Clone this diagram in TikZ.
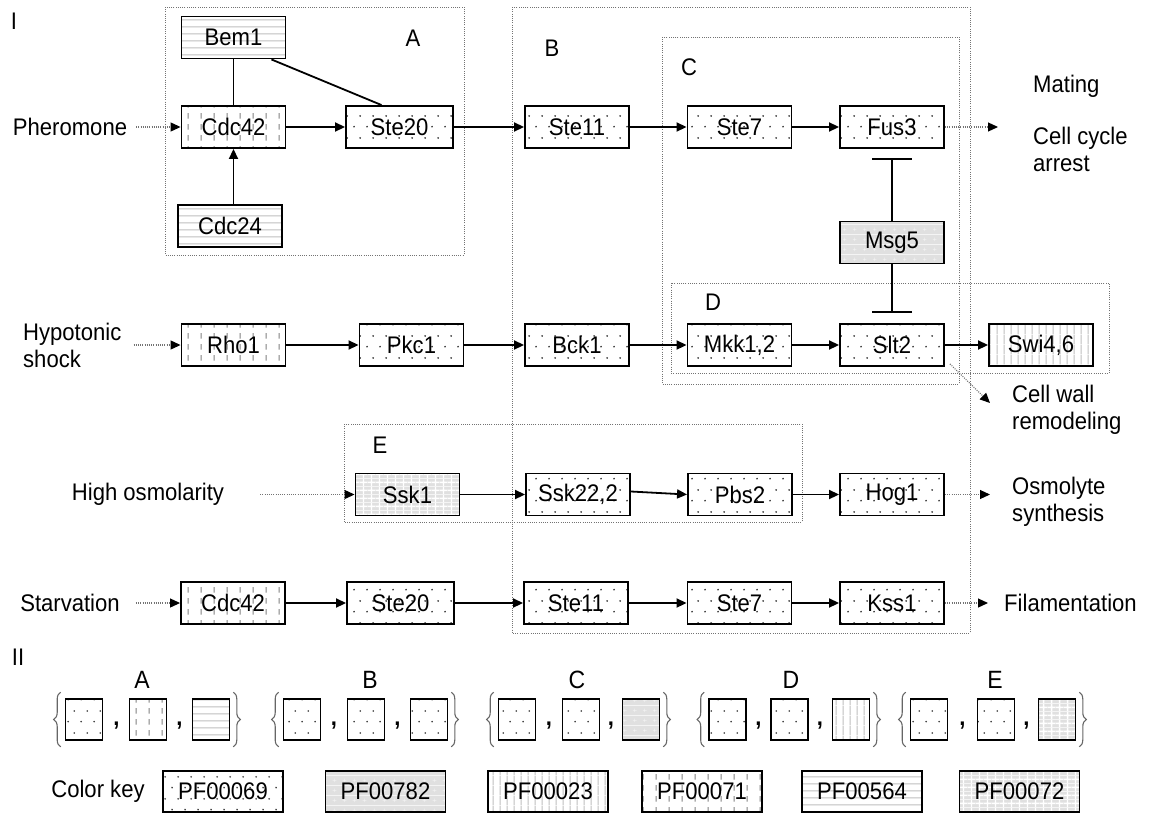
\documentclass[tikz,border=0pt]{standalone}
\usepackage{fontspec}
\setmainfont{Liberation Sans}[FakeStretch=0.92]
\usetikzlibrary{arrows.meta,patterns.meta,decorations.pathreplacing}

% Domain fill patterns (one per Pfam family)
\pgfdeclarepattern{
  name=pfdots, type=colored,
  bottom left={\pgfpointorigin}, top right={\pgfpoint{13pt}{22pt}},
  tile size={\pgfpoint{13pt}{22pt}},
  code={\pgfsetfillcolor{black!80}
    \pgfpathcircle{\pgfpoint{3.25pt}{5.5pt}}{0.95pt}
    \pgfpathcircle{\pgfpoint{9.75pt}{16.5pt}}{0.95pt}
    \pgfusepath{fill}}}
\pgfdeclarepattern{
  name=pfgray, type=colored,
  bottom left={\pgfpointorigin}, top right={\pgfpoint{10pt}{10pt}},
  tile size={\pgfpoint{10pt}{10pt}},
  code={\pgfsetfillcolor{black!12}
    \pgfpathrectangle{\pgfpointorigin}{\pgfpoint{10pt}{10pt}}\pgfusepath{fill}
    \pgfsetstrokecolor{black!5}\pgfsetlinewidth{0.7pt}
    \pgfpathmoveto{\pgfpoint{5pt}{3pt}}\pgfpathlineto{\pgfpoint{5pt}{7pt}}
    \pgfpathmoveto{\pgfpoint{3pt}{5pt}}\pgfpathlineto{\pgfpoint{7pt}{5pt}}
    \pgfusepath{stroke}}}
\pgfdeclarepattern{
  name=pfvline, type=colored,
  bottom left={\pgfpointorigin}, top right={\pgfpoint{7pt}{10pt}},
  tile size={\pgfpoint{7pt}{10pt}},
  code={\pgfsetstrokecolor{black!25}\pgfsetlinewidth{1.3pt}
    \pgfpathmoveto{\pgfpoint{3.5pt}{0pt}}\pgfpathlineto{\pgfpoint{3.5pt}{10pt}}
    \pgfusepath{stroke}}}
\pgfdeclarepattern{
  name=pfhline, type=colored,
  bottom left={\pgfpointorigin}, top right={\pgfpoint{10pt}{7pt}},
  tile size={\pgfpoint{10pt}{7pt}},
  code={\pgfsetstrokecolor{black!25}\pgfsetlinewidth{1.3pt}
    \pgfpathmoveto{\pgfpoint{0pt}{3.5pt}}\pgfpathlineto{\pgfpoint{10pt}{3.5pt}}
    \pgfusepath{stroke}}}
\pgfdeclarepattern{
  name=pfvdash, type=colored,
  bottom left={\pgfpointorigin}, top right={\pgfpoint{13pt}{11pt}},
  tile size={\pgfpoint{13pt}{11pt}},
  code={\pgfsetstrokecolor{black!50}\pgfsetlinewidth{1.1pt}
    \pgfpathmoveto{\pgfpoint{6.5pt}{2.5pt}}\pgfpathlineto{\pgfpoint{6.5pt}{8.5pt}}
    \pgfusepath{stroke}}}
\pgfdeclarepattern{
  name=pfgrid, type=colored,
  bottom left={\pgfpointorigin}, top right={\pgfpoint{8pt}{8pt}},
  tile size={\pgfpoint{8pt}{8pt}},
  code={\pgfsetfillcolor{black!12}
    \pgfpathrectangle{\pgfpointorigin}{\pgfpoint{8pt}{8pt}}\pgfusepath{fill}
    \pgfsetstrokecolor{white}\pgfsetlinewidth{1.4pt}
    \pgfpathmoveto{\pgfpoint{4pt}{0pt}}\pgfpathlineto{\pgfpoint{4pt}{8pt}}
    \pgfpathmoveto{\pgfpoint{0pt}{4pt}}\pgfpathlineto{\pgfpoint{8pt}{4pt}}
    \pgfusepath{stroke}}}

\newcommand\mainfs{\fontsize{24}{27}\selectfont}
\newcommand\setfs{\fontsize{25}{28}\selectfont}

\tikzset{
  prot/.style={draw, line width=1.9pt, minimum width=104pt, minimum height=42pt,
    inner sep=0pt, font=\mainfs, preaction={fill=white}},
  keybox/.style={draw, line width=1.6pt, minimum width=120pt, minimum height=41pt,
    inner sep=0pt, font=\mainfs, preaction={fill=white}},
  sq/.style={draw, line width=1.6pt, minimum width=37pt, minimum height=41pt,
    inner sep=0pt, preaction={fill=white}},
  grp/.style={draw=black!55, line width=0.9pt, dash pattern=on 1pt off 1.2pt},
  lbl/.style={font=\mainfs, inner sep=0pt},
  act/.style={line width=1.8pt, -{Triangle[length=10pt,width=9pt]}},
  sig/.style={draw=black!55, line width=1.1pt, dash pattern=on 1pt off 1.2pt,
    -{Triangle[length=10pt,width=9pt,color=black,fill=black]}},
  inh/.style={line width=1.8pt, -{Bar[width=40pt]}},
  setbrace/.style={draw=black!60, line width=1.1pt, decorate,
    decoration={brace, amplitude=7pt}},
}

\begin{document}
\begin{tikzpicture}[x=1pt,y=-1pt]
\fill[white] (0,0) rectangle (1150,814);
\useasboundingbox (0,0) rectangle (1150,814);

% ---- module frames ----
\draw[grp] (165,7) rectangle (464,255);
\draw[grp] (512,7) rectangle (970,633);
\draw[grp] (662,37) rectangle (959,384);
\draw[grp] (671,283) rectangle (1109,373);
\draw[grp] (344,424) rectangle (802,522);

\node[lbl] (labA) at (413,38) {A};
\node[lbl] (labB) at (552,48) {B};
\node[lbl] (labC) at (689,67) {C};
\node[lbl] (labD) at (713,302) {D};
\node[lbl] (labE) at (380,445) {E};

\node[lbl] (partI) at (14,21) {I};
\node[lbl] (partII) at (18,657) {II};

% ---- pheromone pathway ----
\node[prot, pattern=pfhline] (bem1) at (233.5,37.5) {Bem1};
\node[prot, pattern=pfvdash] (cdc42a) at (233.5,127) {Cdc42};
\node[prot, pattern=pfdots, minimum width=107pt] (ste20a) at (399.5,127) {Ste20};
\node[prot, pattern=pfhline] (cdc24) at (230,226) {Cdc24};
\node[prot, pattern=pfdots] (ste11a) at (577,127) {Ste11};
\node[prot, pattern=pfdots] (ste7a) at (739.5,127) {Ste7};
\node[prot, pattern=pfdots] (fus3) at (892,127) {Fus3};
\node[prot, pattern=pfgray] (msg5) at (892,242.5) {Msg5};

% ---- cell wall integrity pathway ----
\node[prot, pattern=pfvdash] (rho1) at (233.5,345) {Rho1};
\node[prot, pattern=pfdots] (pkc1) at (411.5,345) {Pkc1};
\node[prot, pattern=pfdots] (bck1) at (577,345) {Bck1};
\node[prot, pattern=pfdots] (mkk) at (739.5,345) {Mkk1,2};
\node[prot, pattern=pfdots] (slt2) at (892,345) {Slt2};
\node[prot, pattern=pfvline] (swi) at (1041,345) {Swi4,6};

% ---- osmotic stress pathway ----
\node[prot, pattern=pfgrid] (ssk1) at (407.5,494.5) {Ssk1};
\node[prot, pattern=pfdots] (ssk22) at (578,494.5) {Ssk22,2};
\node[prot, pattern=pfdots] (pbs2) at (740,494.5) {Pbs2};
\node[prot, pattern=pfdots] (hog1) at (892,494.5) {Hog1};

% ---- filamentation pathway ----
\node[prot, pattern=pfvdash] (cdc42b) at (233,603) {Cdc42};
\node[prot, pattern=pfdots, minimum width=107pt] (ste20b) at (400.5,603) {Ste20};
\node[prot, pattern=pfdots] (ste11b) at (576,603) {Ste11};
\node[prot, pattern=pfdots] (ste7b) at (739.5,603) {Ste7};
\node[prot, pattern=pfdots] (kss1) at (892,603) {Kss1};

% ---- stimuli ----
\node[lbl] (pher) at (70,127) {Pheromone};
\node[lbl, anchor=west, align=left] (hypo) at (23,345) {Hypotonic\\shock};
\node[lbl] (osm) at (148,494.5) {High osmolarity};
\node[lbl] (starv) at (70,603) {Starvation};

% ---- responses ----
\node[lbl, anchor=west] (mating) at (1033,86) {Mating};
\node[lbl, anchor=west, align=left] (arrest) at (1033,149.5) {Cell cycle\\arrest};
\node[lbl, anchor=west, align=left] (cellwall) at (1012,410) {Cell wall\\remodeling};
\node[lbl, anchor=west, align=left] (osmolyte) at (1012,502) {Osmolyte\\synthesis};
\node[lbl, anchor=west] (filam) at (1004,603) {Filamentation};

\coordinate (matingend) at (998,127);
\coordinate (cwend) at (990,403);
\coordinate (osmend) at (990,494.5);
\coordinate (filend) at (988,603);

% ---- connectors ----
\draw[line width=1.8pt] (bem1) -- (cdc42a);
\draw[line width=1.8pt] ([xshift=-15pt]bem1.south east) -- ([xshift=-18pt]ste20a.north);
\draw[act] (cdc24.north -| cdc42a.south) -- (cdc42a.south);
\draw[act] (cdc42a) -- (ste20a);
\draw[act] (ste20a) -- (ste11a);
\draw[act] (ste11a) -- (ste7a);
\draw[act] (ste7a) -- (fus3);
\draw[inh] (msg5.north) -- ([yshift=-9pt]fus3.south);
\draw[inh] (msg5.south) -- ([yshift=10pt]slt2.north);

\draw[act] (rho1) -- (pkc1);
\draw[act] (pkc1) -- (bck1);
\draw[act] (bck1) -- (mkk);
\draw[act] (mkk) -- (slt2);
\draw[act] (slt2) -- (swi);

\draw[act] (ssk1) -- (ssk22);
\draw[act] ([yshift=3pt]ssk22.east) -- (pbs2.west);
\draw[act] (pbs2) -- (hog1);

\draw[act] (cdc42b) -- (ste20b);
\draw[act] (ste20b) -- (ste11b);
\draw[act] (ste11b) -- (ste7b);
\draw[act] (ste7b) -- (kss1);

\draw[sig] ([xshift=9pt]pher.east) -- (cdc42a.west);
\draw[sig] ([xshift=12pt]hypo.east) -- (rho1.west);
\draw[sig] ([xshift=36pt]osm.east) -- (ssk1.west);
\draw[sig] ([xshift=16pt]starv.east) -- (cdc42b.west);

\draw[sig] (fus3.east) -- (matingend);
\draw[sig] ([xshift=5pt,yshift=3pt]slt2.south east) -- (cwend);
\draw[sig] (hog1.east) -- (osmend);
\draw[sig] (kss1.east) -- (filend);

% ---- part II: domain composition of each module ----
\node[font=\setfs, inner sep=0pt] (setA) at (142,680) {A};
\node[font=\setfs, inner sep=0pt] (setB) at (370,680) {B};
\node[font=\setfs, inner sep=0pt] (setC) at (577,680) {C};
\node[font=\setfs, inner sep=0pt] (setD) at (791,680) {D};
\node[font=\setfs, inner sep=0pt] (setE) at (995,680) {E};

\foreach \nm/\x/\pat in {A1/84/pfdots, A2/148/pfvdash, A3/211/pfhline,
    B1/302/pfdots, B2/366/pfdots, B3/429/pfdots,
    C1/517/pfdots, C2/581/pfdots, C3/641/pfgray,
    D1/727.5/pfdots, D2/789.5/pfdots, D3/851/pfvline,
    E1/929/pfdots, E2/996/pfdots, E3/1057/pfgrid}
  \node[sq, pattern=\pat] (s\nm) at (\x,719.5) {};

\foreach \nm/\x in {A1/116.5, A2/179.5, B1/334, B2/397.5, C1/549, C2/611,
    D1/758.5, D2/820, E1/962.5, E2/1026.5}
  \node[lbl, anchor=base] (c\nm) at (\x,725) {\bfseries ,};

\foreach \g in {A,B,C,D,E} {
  \draw[setbrace] ([xshift=-4pt,yshift=-6pt]s\g1.south west) -- ([xshift=-4pt,yshift=6pt]s\g1.north west);
  \draw[setbrace] ([xshift=3pt,yshift=6pt]s\g3.north east) -- ([xshift=3pt,yshift=-6pt]s\g3.south east);
}

% ---- colour key ----
\node[lbl] (keylbl) at (98,791) {Color key};
\node[keybox, pattern=pfdots] (k1) at (223,791.5) {PF00069};
\node[keybox, pattern=pfgray] (k2) at (385.5,791.5) {PF00782};
\node[keybox, pattern=pfvline] (k3) at (548,791.5) {PF00023};
\node[keybox, pattern=pfvdash] (k4) at (702,791.5) {PF00071};
\node[keybox, pattern=pfhline] (k5) at (862,791.5) {PF00564};
\node[keybox, pattern=pfgrid] (k6) at (1019.5,791.5) {PF00072};
\end{tikzpicture}
\end{document}
